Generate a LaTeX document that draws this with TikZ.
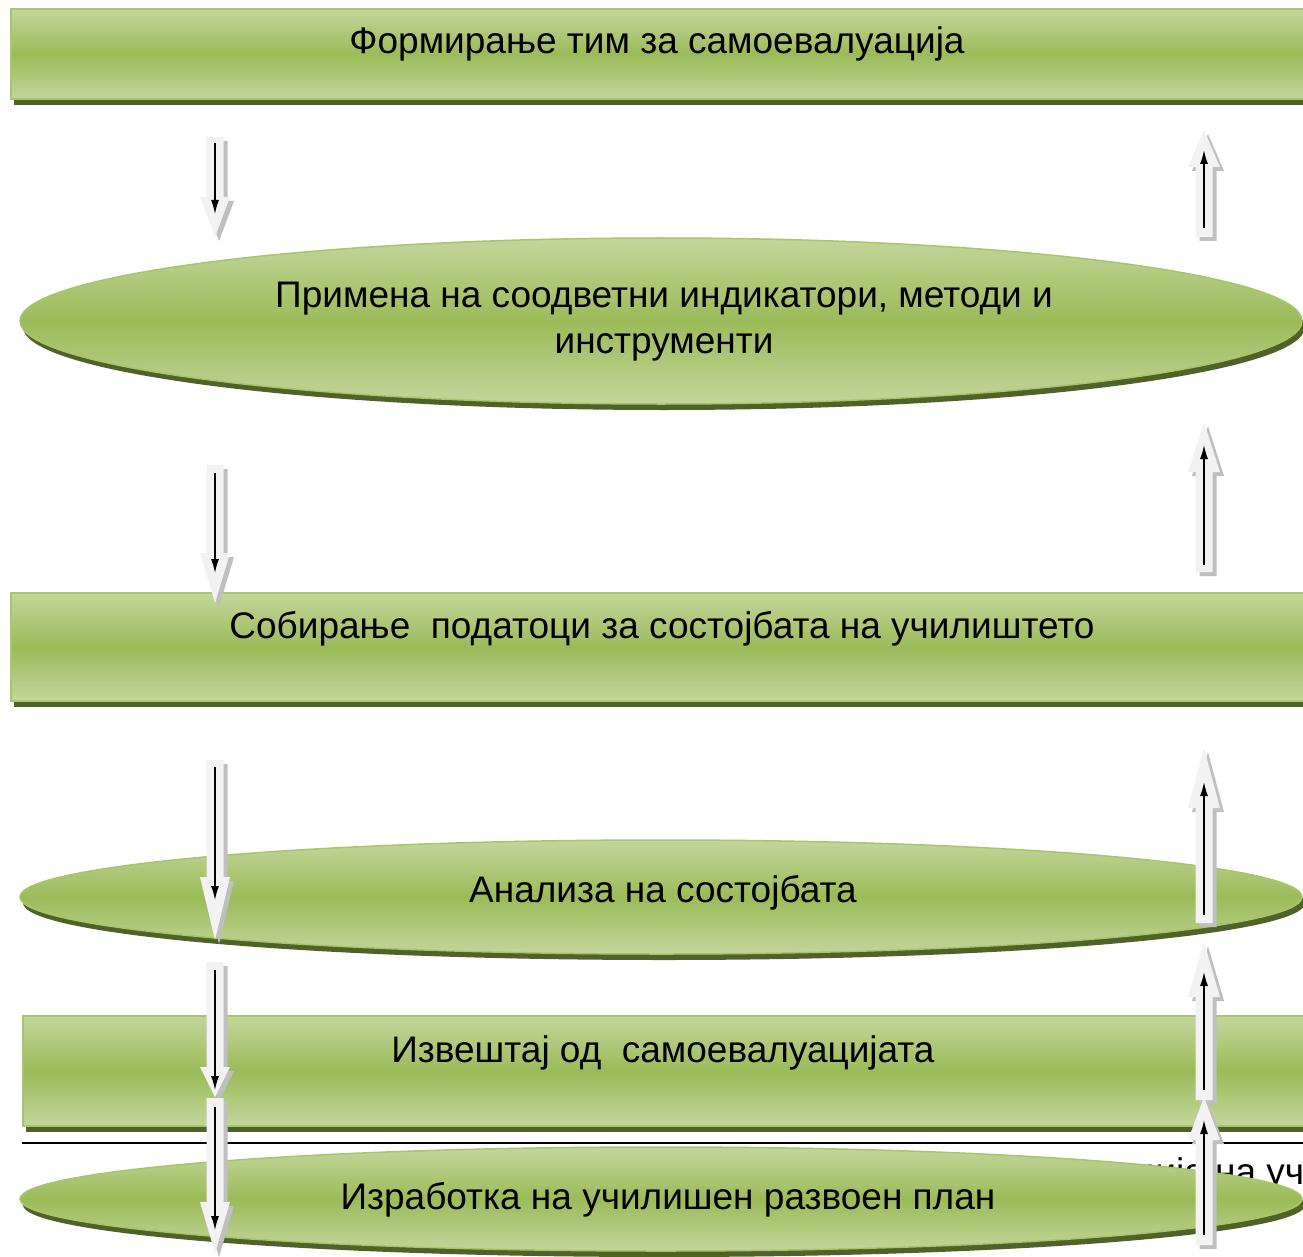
\documentclass[tikz,border=0pt]{standalone}
\usepackage{fontspec}
\setmainfont{Liberation Sans}
\usetikzlibrary{shapes.geometric,shadows,arrows.meta}
\definecolor{gl}{HTML}{C3D69B}
\definecolor{gm}{HTML}{9BBB59}
\definecolor{gb}{HTML}{A8C56C}
\definecolor{gs}{HTML}{4F6228}
\definecolor{af}{HTML}{F2F2F2}
\definecolor{as}{HTML}{BFBFBF}
\tikzset{
  greenbox/.style={shape=rectangle, draw=gb, line width=2pt, top color=gl, bottom color=gl, middle color=gm,
    inner sep=0pt, anchor=north west,
    drop shadow={shadow xshift=3pt, shadow yshift=-6pt, fill=gs, opacity=1}},
  greenell/.style={shape=ellipse, draw=gb, line width=1.5pt, top color=gl, bottom color=gl, middle color=gm,
    inner sep=0pt,
    drop shadow={shadow xshift=3pt, shadow yshift=-6pt, fill=gs, opacity=1}},
  lbl/.style={font=\fontsize{37}{46}\selectfont, align=center, inner sep=0pt, text=black},
  innerarrow/.style={line width=1.3pt, -{Latex[length=14pt,width=8pt]}},
}
\newcommand\DownBlk[6]{%
  \fill[as] (215-8.5+4,#2+4) -- (215+8.5+4,#2+4) -- (215+8.5+4,#3+4) -- (215+15+4,#3+4) -- (215+4,#4+4) -- (215-15+4,#3+4) -- (215-8.5+4,#3+4) -- cycle;
  \fill[af] (215-8.5,#2) -- (215+8.5,#2) -- (215+8.5,#3) -- (215+15,#3) -- (215,#4) -- (215-15,#3) -- (215-8.5,#3) -- cycle;
  \coordinate (#1s) at (215,#5);
  \coordinate (#1e) at (215,#6);
  \draw[innerarrow] (#1s) -- (#1e);
}
\newcommand\UpBlk[6]{%
  \fill[as] (1204-8.5+4,#2+4) -- (1204+8.5+4,#2+4) -- (1204+8.5+4,#3+4) -- (1204+16+4,#3+4) -- (1204+4,#4+4) -- (1204-16+4,#3+4) -- (1204-8.5+4,#3+4) -- cycle;
  \fill[af] (1204-8.5,#2) -- (1204+8.5,#2) -- (1204+8.5,#3) -- (1204+16,#3) -- (1204,#4) -- (1204-16,#3) -- (1204-8.5,#3) -- cycle;
  \coordinate (#1s) at (1204,#5);
  \coordinate (#1e) at (1204,#6);
  \draw[innerarrow] (#1s) -- (#1e);
}
\begin{document}
\begin{tikzpicture}[x=1pt,y=-1pt]
\useasboundingbox (0,0) rectangle (1303,1257);
\fill[white] (0,0) rectangle (1303,1257);
\clip (0,0) rectangle (1303,1257);

% boxes and ellipses
\node[greenbox, minimum width=1320pt, minimum height=90pt] (r1) at (10,8) {};
\node[lbl] (t1) at (657,44) {Формирање тим за самоевалуација};

\node[greenell, minimum width=1282pt, minimum height=166pt] (e1) at (661,321) {};
\node[lbl] (t2) at (664,322) {Примена на соодветни индикатори, методи и\\инструменти};

\node[greenbox, minimum width=1320pt, minimum height=108pt] (r2) at (10,592) {};
\node[lbl] (t3) at (662,629) {Собирање \ податоци за состојбата на училиштето};

\node[greenell, minimum width=1282pt, minimum height=114pt] (e2) at (661,897) {};
\node[lbl] (t4) at (663,893) {Анализа на состојбата};

\node[greenbox, minimum width=1310pt, minimum height=110pt] (r3) at (22,1015) {};
\node[lbl] (t5) at (663,1053) {Извештај од \ самоевалуацијата};

\draw[line width=2pt, black] (22,1143) -- (1320,1143);
\node[lbl, anchor=base west] (fn) at (1134,1184) {ција на училиштето};

\node[greenell, minimum width=1282pt, minimum height=104pt] (e3) at (661,1199) {};
\node[lbl] (t6) at (668,1200) {Изработка на училишен развоен план};

% down arrows
\DownBlk{d1}{137}{197}{237}{143}{214}
\DownBlk{d2}{465}{553}{603}{473}{573}
\DownBlk{d3}{760}{877}{940}{767}{900}
\DownBlk{d4}{962}{1067}{1097}{970}{1090}
\DownBlk{d5}{1098}{1202}{1253}{1107}{1230}
% up arrows
\UpBlk{u1}{237}{167}{130}{228}{150}
\UpBlk{u2}{572}{472}{422}{565}{445}
\UpBlk{u3}{923}{808}{748}{915}{782}
\UpBlk{u4}{1100}{997}{942}{1090}{972}
\UpBlk{u5}{1245}{1140}{1097}{1235}{1120}
\end{tikzpicture}
\end{document}
